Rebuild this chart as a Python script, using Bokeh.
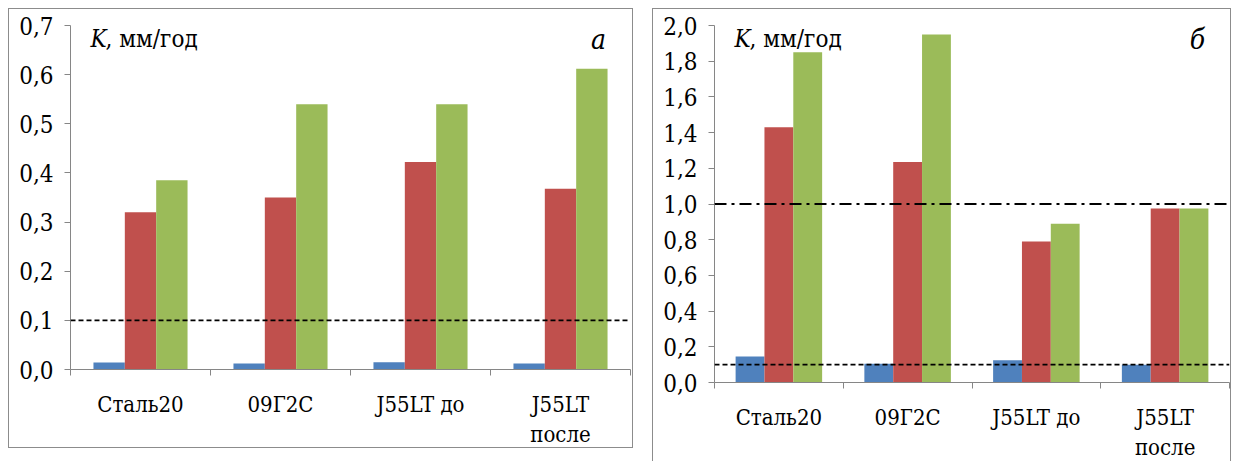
from bokeh.plotting import figure
from bokeh.layouts import row
from bokeh.models import FixedTicker, CustomJSTickFormatter, Span, Label, ColumnDataSource
from bokeh.embed import file_html
from bokeh.resources import INLINE

categories = ["Сталь20", "09Г2С", "J55LT до", "J55LT\nпосле"]
a_blue = [0.014, 0.012, 0.015, 0.012]
a_red = [0.320, 0.350, 0.422, 0.368]
a_green = [0.385, 0.540, 0.540, 0.612]
b_blue = [0.145, 0.105, 0.125, 0.100]
b_red = [1.430, 1.235, 0.790, 0.975]
b_green = [1.850, 1.950, 0.890, 0.975]
a_yticks = [0.0, 0.1, 0.2, 0.3, 0.4, 0.5, 0.6, 0.7]
b_yticks = [0.0, 0.2, 0.4, 0.6, 0.8, 1.0, 1.2, 1.4, 1.6, 1.8, 2.0]
a_limit = 0.1
b_limits = [0.1, 1.0]

FONT = "DejaVu Serif Condensed"
COLORS = ["#4F81BD", "#C0504D", "#9BBB59"]
AXIS = "#868686"
BW = 0.224


def make(series, yticks, ymax, width, height, mb, panel, margin, styles, fh, fw):
    p = figure(width=width, height=height, x_range=(0, len(categories)), y_range=(0, ymax),
               output_backend="svg", toolbar_location=None,
               min_border_left=mb[0], min_border_right=mb[1], min_border_top=mb[2], min_border_bottom=mb[3],
               margin=margin, styles=styles)
    p.outline_line_color = None
    p.grid.visible = False
    p.background_fill_color = "white"
    centers = [i + 0.5 for i in range(len(categories))]
    for k, vals in enumerate(series):
        off = (k - 1) * BW
        src = ColumnDataSource(dict(x=[c + off for c in centers], top=vals))
        p.vbar(x="x", top="top", width=BW, bottom=0, source=src, fill_color=COLORS[k], line_color=None)

    p.yaxis.ticker = FixedTicker(ticks=yticks)
    p.yaxis.formatter = CustomJSTickFormatter(code="return tick.toFixed(1).replace('.', ',');")
    p.yaxis.major_tick_out = 6
    p.yaxis.major_tick_in = 0
    p.yaxis.minor_tick_line_color = None
    p.yaxis.axis_line_color = AXIS
    p.yaxis.major_tick_line_color = AXIS
    p.yaxis.major_label_text_font = FONT
    p.yaxis.major_label_text_font_size = "24px"
    p.yaxis.major_label_text_color = "black"
    p.yaxis.major_label_standoff = 11

    p.xaxis.ticker = FixedTicker(ticks=centers, minor_ticks=list(range(len(categories) + 1)))
    p.xaxis.major_label_overrides = {c: n for c, n in zip(centers, categories)}
    p.xaxis.major_tick_out = 0
    p.xaxis.major_tick_in = 0
    p.xaxis.minor_tick_out = 6
    p.xaxis.minor_tick_in = 0
    p.xaxis.minor_tick_line_color = AXIS
    p.xaxis.axis_line_color = AXIS
    p.xaxis.major_label_text_font = FONT
    p.xaxis.major_label_text_font_size = "22px"
    p.xaxis.major_label_text_color = "black"
    p.xaxis.major_label_standoff = 16

    ny = ymax * (1 - 14.0 / fh)
    nx = len(categories) / fw
    p.add_layout(Label(x=20 * nx, y=ny, text="K",
                       text_font=FONT, text_font_style="italic", text_font_size="24px",
                       text_baseline="middle", text_color="black"))
    p.add_layout(Label(x=35 * nx, y=ny, text=", мм/год",
                       text_font=FONT, text_font_size="24px", text_baseline="middle", text_color="black"))
    p.add_layout(Label(x=len(categories) - 32 * nx, y=ny, text=panel,
                       text_font=FONT, text_font_style="italic", text_font_size="28px",
                       text_baseline="middle", text_align="center", text_color="black"))
    return p


BORDER = "1px solid #8c8c8c"
pa = make([a_blue, a_red, a_green], a_yticks, 0.7, 625, 440, (61, 4, 16, 76), "а", (8, 0, 0, 8),
          {"border": BORDER, "box-sizing": "border-box"}, 348, 560)
pa.add_layout(Span(location=a_limit, dimension="width", line_color="black", line_width=1.8, line_dash="5 3"))
pb = make([b_blue, b_red, b_green], b_yticks, 2.0, 579, 453, (61, 3, 15, 79), "б", (8, 0, 0, 19),
          {"border-left": BORDER, "border-top": BORDER, "border-right": BORDER, "box-sizing": "border-box"}, 359, 515)
pb.add_layout(Span(location=b_limits[0], dimension="width", line_color="black", line_width=1.8, line_dash="5 3"))
pb.add_layout(Span(location=b_limits[1], dimension="width", line_color="black", line_width=1.8, line_dash="12 5 3 5"))

root = row(pa, pb)
open("out.html", "w").write(file_html(root, INLINE))
